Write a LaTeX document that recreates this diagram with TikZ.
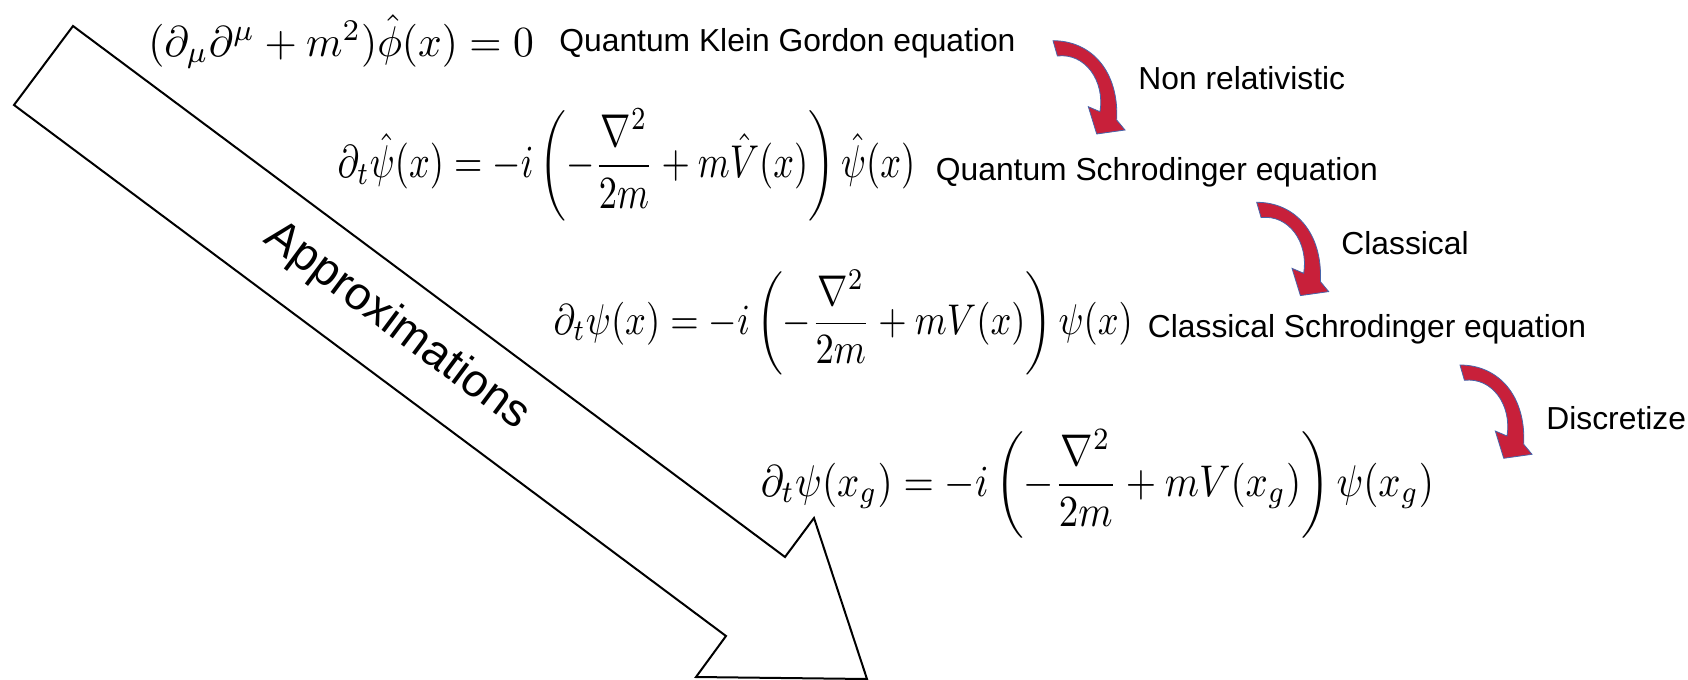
\documentclass[tikz,border=0pt]{standalone}
\usepackage{amsmath}
\usepackage{fontspec}
\newfontfamily\arial{Liberation Sans}
\definecolor{arrred}{RGB}{200,32,58}
\definecolor{arrline}{RGB}{70,100,170}
\begin{document}
\begin{tikzpicture}[x=0.5pt,y=-0.5pt,
  lbl/.style={inner sep=0pt, anchor=base west, font=\arial\fontsize{15.9}{19}\selectfont},
  eqn/.style={inner sep=0pt, anchor=west},
  bigarrow/.style={draw=black, fill=white, line width=1pt, line join=miter},
  redarrow/.pic={
    \filldraw[fill=arrred, draw=arrline, line width=0.4pt]
      (0,0) .. controls (38,0) and (66,30) .. (63.7,79.3)
      -- (72,89.3) -- (43.7,93.3) -- (35.3,66) -- (47,71)
      .. controls (52,40) and (32,12) .. (4.4,15.3) -- cycle;
  }]
\useasboundingbox (0,0) rectangle (1688,680);
% big arrow
\coordinate (tA) at (73,26);
\coordinate (tB) at (14,105);
\coordinate (nL) at (726,636);
\coordinate (bL) at (696,677);
\coordinate (tip) at (867,679);
\coordinate (bU) at (814,518);
\coordinate (nU) at (785,557);
\draw[bigarrow] (tA) -- (nU) -- (bU) -- (tip) -- (bL) -- (nL) -- (tB) -- cycle;
\node[inner sep=0pt, anchor=base, rotate=-36.7, font=\arial\fontsize{23}{28}\selectfont] (approx) at (390,336) {Approximations};
% equations
\node[inner sep=0pt, anchor=base west, xscale=2.075, yscale=2.15] (eq1) at (147.5,56) {$(\partial_\mu\partial^\mu + m^2)\hat\phi(x) = 0$};
\node[lbl] (t1) at (559,51.5) {Quantum Klein Gordon equation};
\node[eqn, xscale=1.82, yscale=2.3] (eq2) at (337,165) {$\displaystyle \partial_t\hat\psi(x) = -i\left(-\frac{\nabla^2}{2m}+m\hat V(x)\right)\hat\psi(x)$};
\node[lbl] (t2) at (935.5,180.5) {Quantum Schrodinger equation};
\node[eqn, xscale=1.825, yscale=2.15] (eq3) at (553,322.7) {$\displaystyle \partial_t\psi(x) = -i\left(-\frac{\nabla^2}{2m}+mV(x)\right)\psi(x)$};
\node[lbl] (t3) at (1147.5,337.5) {Classical Schrodinger equation};
\node[eqn, xscale=1.95, yscale=2.22] (eq4) at (760,484) {$\displaystyle \partial_t\psi(x_g) = -i\left(-\frac{\nabla^2}{2m}+mV(x_g)\right)\psi(x_g)$};
% step labels
\node[lbl] (s1) at (1138,89) {Non relativistic};
\node[lbl] (s2) at (1341,254.5) {Classical};
\node[lbl] (s3) at (1546,429) {Discretize};
% red curved arrows
\pic at (1053,40.7) {redarrow};
\pic at (1256.7,202.3) {redarrow};
\pic at (1460,365) {redarrow};
\end{tikzpicture}
\end{document}
